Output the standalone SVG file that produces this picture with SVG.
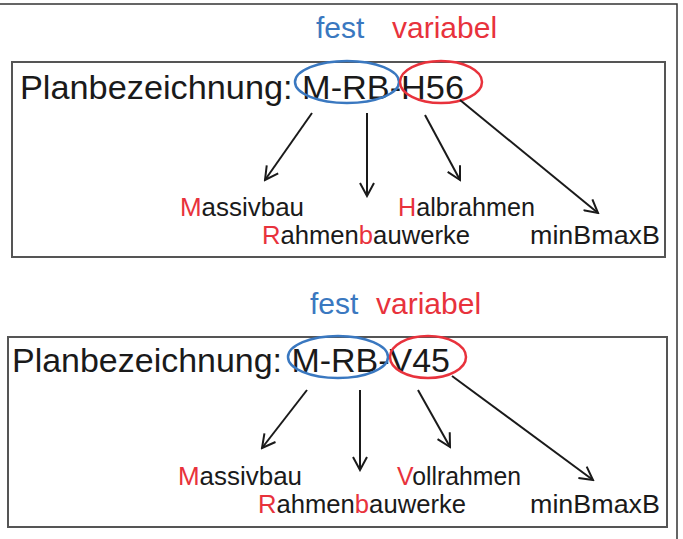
<svg xmlns="http://www.w3.org/2000/svg" width="683" height="539" viewBox="0 0 683 539">
<defs>
<style>
.t{font-family:"Liberation Sans",Arial,sans-serif;fill:#1a1a1a}
.big{font-size:34px}
.hd{font-size:30px}
.lb{font-size:25px}
.r{fill:#e8323c}
.b{fill:#3a78c0}
.box{fill:none;stroke:#555;stroke-width:2}
.ell-b{fill:none;stroke:#3a78c0;stroke-width:2.5}
.ell-r{fill:none;stroke:#e8323c;stroke-width:2.5}
.arr{fill:none;stroke:#1a1a1a;stroke-width:2;marker-end:url(#ah)}
</style>
<marker id="ah" viewBox="0 0 16 16" refX="14" refY="8" markerWidth="16" markerHeight="16" markerUnits="userSpaceOnUse" orient="auto">
<path d="M1,1 L14,8 L1,15" fill="none" stroke="#1a1a1a" stroke-width="2"/>
</marker>
</defs>
<rect width="683" height="539" fill="#fff"/>
<path d="M0,4 H677 V539" fill="none" stroke="#333" stroke-width="1.5"/>

<g id="top">
<text class="t hd b" x="316" y="38">fest</text>
<text class="t hd r" x="392" y="38">variabel</text>
<rect class="box" x="12" y="62" width="653" height="195"/>
<text class="t big" x="20" y="99" textLength="444" lengthAdjust="spacingAndGlyphs">Planbezeichnung: M-RB-H56</text>
<ellipse class="ell-b" cx="347" cy="82" rx="52" ry="21"/>
<ellipse class="ell-r" cx="441" cy="82" rx="41" ry="21"/>
</g>
<g id="top-labels">
<text class="t lb" x="180" y="216" textLength="124" lengthAdjust="spacingAndGlyphs"><tspan class="r">M</tspan>assivbau</text>
<text class="t lb" x="398" y="216" textLength="137" lengthAdjust="spacingAndGlyphs"><tspan class="r">H</tspan>albrahmen</text>
<text class="t lb" x="262" y="244" textLength="208" lengthAdjust="spacingAndGlyphs"><tspan class="r">R</tspan>ahmen<tspan class="r">b</tspan>auwerke</text>
<text class="t lb" x="530" y="244" textLength="130" lengthAdjust="spacingAndGlyphs">minBmaxB</text>
</g>

<g id="bottom">
<text class="t hd b" x="310" y="314">fest</text>
<text class="t hd r" x="376" y="314">variabel</text>
<rect class="box" x="8" y="337" width="659" height="190"/>
<text class="t big" x="12" y="372" textLength="438" lengthAdjust="spacingAndGlyphs">Planbezeichnung: M-RB-V45</text>
<ellipse class="ell-b" cx="338" cy="357" rx="50" ry="21"/>
<ellipse class="ell-r" cx="428" cy="357" rx="38" ry="21"/>
</g>
<g id="bottom-labels">
<text class="t lb" x="178" y="485" textLength="124" lengthAdjust="spacingAndGlyphs"><tspan class="r">M</tspan>assivbau</text>
<text class="t lb" x="397" y="485" textLength="124" lengthAdjust="spacingAndGlyphs"><tspan class="r">V</tspan>ollrahmen</text>
<text class="t lb" x="258" y="513" textLength="208" lengthAdjust="spacingAndGlyphs"><tspan class="r">R</tspan>ahmen<tspan class="r">b</tspan>auwerke</text>
<text class="t lb" x="530" y="513" textLength="130" lengthAdjust="spacingAndGlyphs">minBmaxB</text>
</g>

<g id="connectors">
<line class="arr" x1="312" y1="113" x2="265" y2="180"/>
<line class="arr" x1="367" y1="113" x2="367" y2="196"/>
<line class="arr" x1="425" y1="115" x2="460" y2="180"/>
<line class="arr" x1="460" y1="100" x2="598" y2="213"/>
<line class="arr" x1="307" y1="390" x2="262" y2="448"/>
<line class="arr" x1="360" y1="390" x2="360" y2="470"/>
<line class="arr" x1="418" y1="390" x2="450" y2="447"/>
<line class="arr" x1="452" y1="376" x2="593" y2="480"/>
</g>
</svg>
